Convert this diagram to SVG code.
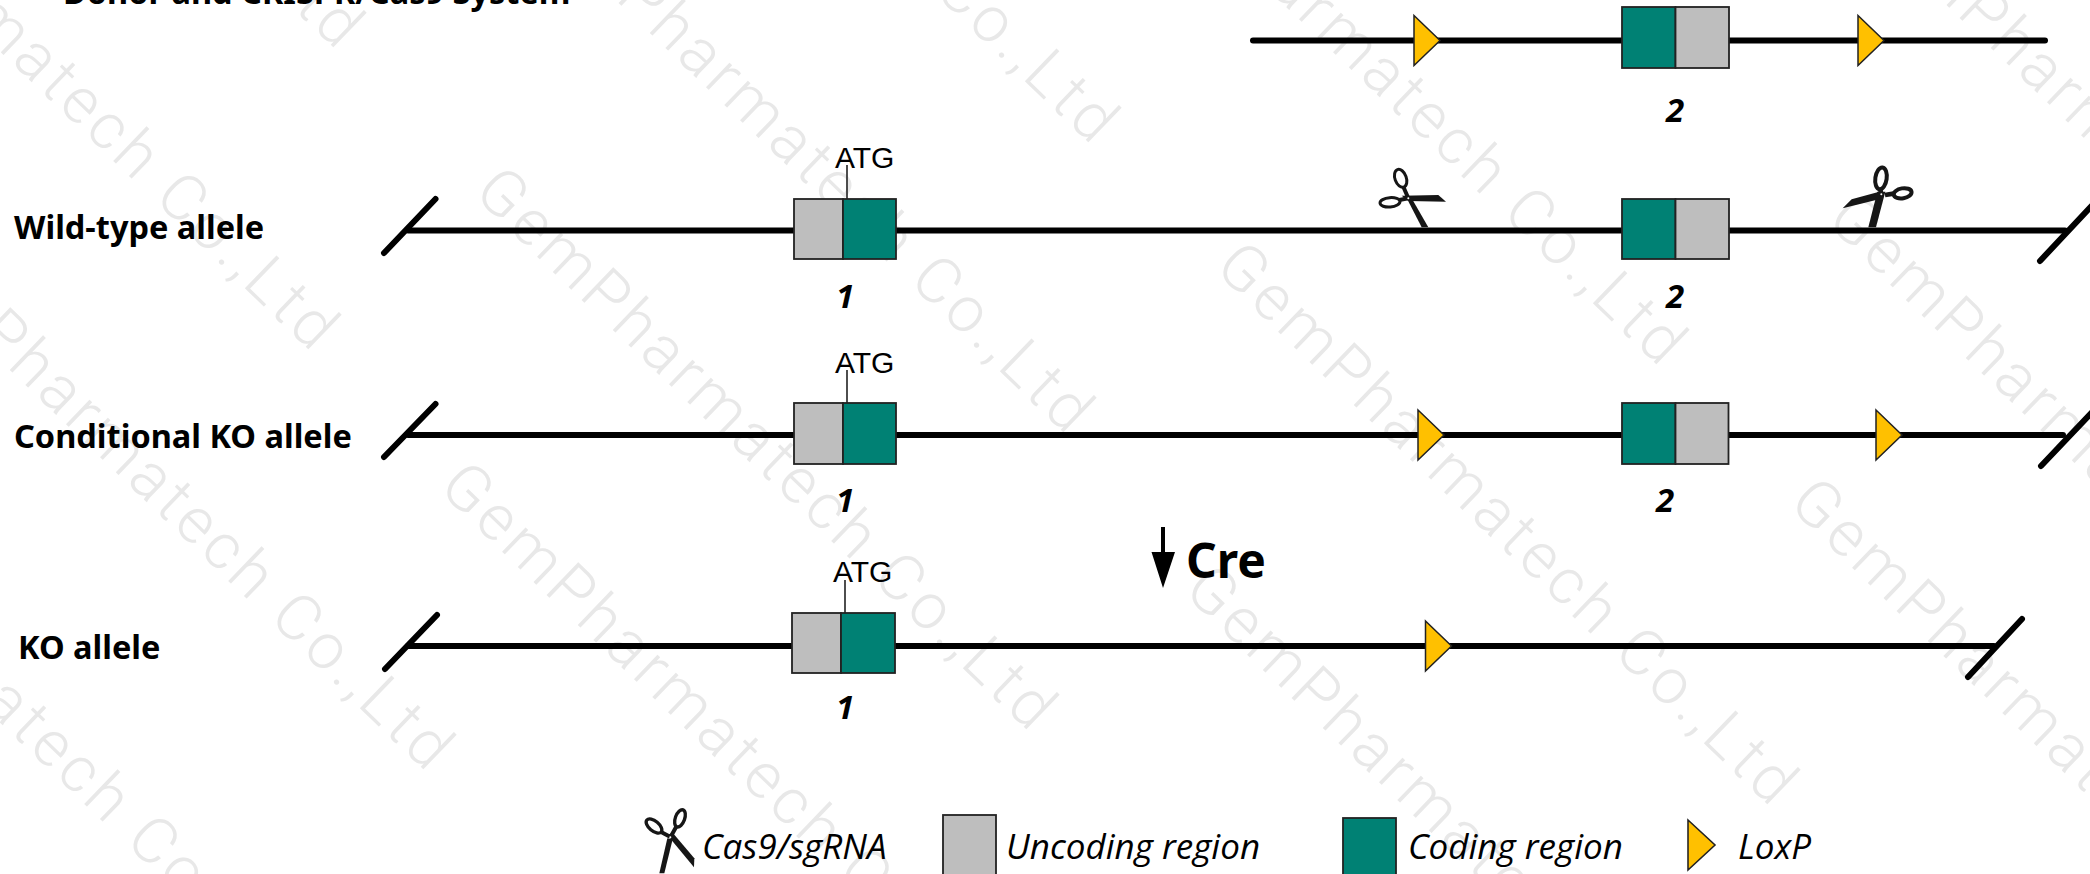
<svg xmlns="http://www.w3.org/2000/svg" width="2090" height="874" viewBox="0 0 2090 874">
<style>
.wm{font-family:Roboto,"Open Sans",sans-serif;font-weight:300;font-size:64px;letter-spacing:4.4px;fill:#e8e8e8}
.lbl{font-family:"Noto Sans","Open Sans",sans-serif;font-weight:700;font-size:32.500px;fill:#000}
.atg{font-family:"Liberation Sans",Arial,sans-serif;font-size:30px;fill:#000}
.num{font-family:"Noto Sans","Open Sans",sans-serif;font-weight:700;font-style:italic;font-size:33px;fill:#000;text-anchor:middle}
.leg{font-family:"Open Sans","Noto Sans",sans-serif;font-style:italic;font-size:35px;fill:#000}
.dna{stroke:#000;stroke-width:6;stroke-linecap:round;fill:none}
.cut{stroke:#000;stroke-width:6;stroke-linecap:round;fill:none}
.tick{stroke:#222;stroke-width:1.6;fill:none}
.g{fill:#bebebe;stroke:#222;stroke-width:1.8}
.t{fill:#008174;stroke:#222;stroke-width:1.8}
.y{fill:#ffc000;stroke:#222;stroke-width:1.5}
.s{fill:none;stroke:#161616}
.b{fill:#161616}
</style>
<defs>
<polygon id="lox" class="y" points="0,0 26,25 0,50"/>
</defs>
<g id="watermark">
<text class="wm" transform="translate(472,194) rotate(44)">GemPharmatech Co.,Ltd</text>
<text class="wm" transform="translate(437,489) rotate(44)">GemPharmatech Co.,Ltd</text>
<text class="wm" transform="translate(1787,505) rotate(44)">GemPharmatech Co.,Ltd</text>
<text class="wm" transform="translate(1182,592) rotate(44)">GemPharmatech Co.,Ltd</text>
<text class="wm" transform="translate(1825,222) rotate(44)">GemPharmatech Co.,Ltd</text>
<text class="wm" transform="translate(1213,269) rotate(44)">GemPharmatech Co.,Ltd</text>
<text class="wm" transform="translate(1850,-88) rotate(44)">GemPharmatech Co.,Ltd</text>
<text class="wm" transform="translate(1102,-171) rotate(44)">GemPharmatech Co.,Ltd</text>
<text class="wm" transform="translate(-246,-186) rotate(44)">GemPharmatech Co.,Ltd</text>
<text class="wm" transform="translate(-221,-488) rotate(44)">GemPharmatech Co.,Ltd</text>
<text class="wm" transform="translate(509,-103) rotate(44)">GemPharmatech Co.,Ltd</text>
<text class="wm" transform="translate(534,-393) rotate(44)">GemPharmatech Co.,Ltd</text>
<text class="wm" transform="translate(-131,234) rotate(44)">GemPharmatech Co.,Ltd</text>
<text class="wm" transform="translate(-275,457) rotate(44)">GemPharmatech Co.,Ltd</text>
</g>
<g id="connectors">
<path class="dna" d="M1253 40.500H2045"/>
<path class="dna" d="M408 230.500H2065"/>
<path class="dna" d="M408 435H2063"/>
<path class="dna" d="M408 646H1994"/>
<path class="cut" d="M435.500 199L384 253M2040 261L2098 199M435.500 404L384 457M2041 466L2098 406M437 615L385 669M2022 619L1968 677"/>
<path class="tick" d="M847 165V199M847 370V403M845 580V613"/>
<path fill="#000" d="M1161 527H1165V552H1175L1163 588L1151.500 552H1161Z"/>
</g>
<g id="donor">
<use href="#lox" x="1414" y="15.500"/>
<rect class="t" x="1622" y="7" width="53.500" height="61"/>
<rect class="g" x="1675.500" y="7" width="53.500" height="61"/>
<use href="#lox" x="1858" y="15.500"/>
<text class="num" x="1675" y="122">2</text>
<text class="lbl" x="63" y="4">Donor and CRISPR/Cas9 System</text>
</g>
<g id="wild-type">
<text class="lbl" x="14" y="239">Wild-type allele</text>
<rect class="g" x="794" y="199" width="49" height="60"/>
<rect class="t" x="843" y="199" width="53" height="60"/>
<text class="atg" x="835" y="168">ATG</text>
<text class="num" x="845" y="308">1</text>
<rect class="t" x="1622" y="199" width="53.500" height="60"/>
<rect class="g" x="1675.500" y="199" width="53.500" height="60"/>
<text class="num" x="1675" y="308">2</text>
</g>
<g id="scissors-left" transform="translate(1340,150) scale(0.3333)">
<ellipse class="s" stroke-width="9" cx="182" cy="85" rx="17" ry="28" transform="rotate(-20 182 85)"/>
<ellipse class="s" stroke-width="9" cx="150" cy="157" rx="30" ry="14" transform="rotate(-5 150 157)"/>
<path class="s" stroke-width="12" d="M190 110L205 145M178 150L205 145"/>
<polygon class="b" points="203,150 218,150 265,232 245,232"/>
<polygon class="b" points="185,137 295,135 318,155 205,153"/>
<circle cx="205" cy="145" r="3" fill="#fff"/>
</g>
<g id="scissors-right" transform="translate(1820,150) scale(0.3333)">
<ellipse class="s" stroke-width="12" cx="183" cy="85" rx="17" ry="33" transform="rotate(8 183 85)"/>
<ellipse class="s" stroke-width="12" cx="248" cy="130" rx="27" ry="15" transform="rotate(-10 248 130)"/>
<path class="s" stroke-width="14" d="M195 135L225 130M180 115L184 133"/>
<polygon class="b" points="172,125 196,125 168,232 145,232"/>
<polygon class="b" points="68,175 95,148 175,126 180,147 120,162"/>
<circle cx="184" cy="133" r="3" fill="#fff"/>
</g>
<g id="conditional-ko">
<text class="lbl" x="14" y="448">Conditional KO allele</text>
<rect class="g" x="794" y="403" width="49" height="61"/>
<rect class="t" x="843" y="403" width="53" height="61"/>
<text class="atg" x="835" y="373">ATG</text>
<text class="num" x="845" y="512">1</text>
<use href="#lox" x="1418" y="410"/>
<rect class="t" x="1622" y="403" width="53.500" height="61"/>
<rect class="g" x="1675.500" y="403" width="53" height="61"/>
<text class="num" x="1665" y="512">2</text>
<use href="#lox" x="1876" y="410"/>
</g>
<g id="cre">
<text x="1186" y="578" font-family="Noto Sans, Open Sans, sans-serif" font-weight="700" font-size="48">Cre</text>
</g>
<g id="ko">
<text class="lbl" x="18" y="659">KO allele</text>
<rect class="g" x="792" y="613" width="49" height="60"/>
<rect class="t" x="841" y="613" width="54" height="60"/>
<text class="atg" x="833" y="582">ATG</text>
<text class="num" x="845" y="719">1</text>
<use href="#lox" x="1425.500" y="621"/>
</g>
<g id="legend">
<g transform="translate(630,790) scale(0.3333)">
<ellipse class="s" stroke-width="10" cx="72" cy="108" rx="28" ry="15" transform="rotate(40 72 108)"/>
<ellipse class="s" stroke-width="10" cx="150" cy="85" rx="14" ry="27" transform="rotate(20 150 85)"/>
<path class="s" stroke-width="12" d="M92 125L120 140M140 108L122 140"/>
<polygon class="b" points="112,135 128,128 193,205 192,232"/>
<polygon class="b" points="112,145 128,148 103,250 88,250"/>
<circle cx="121" cy="142" r="3" fill="#fff"/>
</g>
<text class="leg" x="702" y="859">Cas9/sgRNA</text>
<rect class="g" x="943" y="815" width="53" height="70"/>
<text class="leg" x="1006" y="859">Uncoding region</text>
<rect class="t" x="1343" y="818" width="53" height="70"/>
<text class="leg" x="1408" y="859">Coding region</text>
<use href="#lox" transform="translate(1688,820) scale(1.04,1)"/>
<text class="leg" x="1738" y="859">LoxP</text>
</g>
</svg>
